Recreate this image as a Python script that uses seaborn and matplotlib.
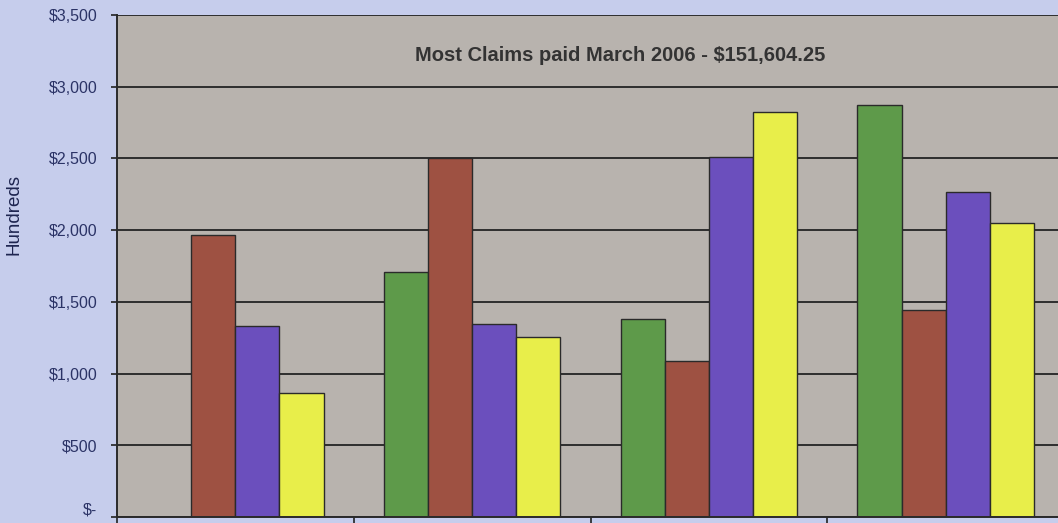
import matplotlib
matplotlib.use("Agg")
import matplotlib.pyplot as plt
import seaborn as sns
import pandas as pd
import numpy as np

categories = ["Q1", "Q2", "Q3", "Q4"]
series_names = ["Series A", "Series B", "Series C", "Series D"]
series_a = [0, 1708, 1381, 2873]     # green
series_b = [1967, 2503, 1088, 1444]  # brown
series_c = [1332, 1346, 2510, 2266]  # purple
series_d = [865, 1255, 2824, 2050]   # yellow
ytick_values = [0, 500, 1000, 1500, 2000, 2500, 3000, 3500]
ytick_labels = ["$-", "$500", "$1,000", "$1,500", "$2,000", "$2,500", "$3,000", "$3,500"]
annotation = "Most Claims paid March 2006 - $151,604.25"
colors = ["#5e9a4a", "#9e5142", "#6b4fbd", "#e8ee4a"]

rows = []
for name, vals in zip(series_names, [series_a, series_b, series_c, series_d]):
    for c, v in zip(categories, vals):
        rows.append({"cat": c, "series": name, "value": v})
df = pd.DataFrame(rows)

sns.set_style("white")
plt.rcParams['font.family'] = ['Liberation Sans', 'DejaVu Sans']

fig = plt.figure(figsize=(10.58, 5.23), dpi=100)
fig.patch.set_facecolor("#c6cdec")
ax = fig.add_axes([117/1058, 1 - 517/523, 947/1058, 502/523])
ax.set_facecolor("#b8b3ae")

sns.barplot(data=df, x="cat", y="value", hue="series", order=categories,
            hue_order=series_names, palette=colors, width=0.745,
            edgecolor="#2a2a2a", linewidth=1.0, saturation=1, ax=ax, legend=False)

ax.set_ylim(0, 3500)
ax.set_xlim(-0.5, 3.5)
ax.set_yticks(ytick_values)
ax.set_yticklabels(ytick_labels, fontsize=11.5, color="#2b3366")
ax.get_yticklabels()[0].set_verticalalignment("bottom")
ax.yaxis.grid(True, color="#2e2e2e", linewidth=1.4)
ax.set_axisbelow(True)
ax.set_xticks([-0.5, 0.5, 1.5, 2.5, 3.5])
ax.set_xticklabels([])
ax.tick_params(axis="x", length=5, color="#222222", width=1.2, direction="out", bottom=True)
ax.tick_params(axis="y", length=4, color="#222222", width=1.2, left=True, pad=10)
ax.set_xlabel("")
ax.set_ylabel("Hundreds", fontsize=13.5, color="#1e2550")
ax.yaxis.set_label_coords(-0.0993, 0.602)
for side in ["left", "bottom"]:
    ax.spines[side].set_color("#2a2a2a")
    ax.spines[side].set_linewidth(1.4)
for side in ["top", "right"]:
    ax.spines[side].set_visible(False)

ax.text(0.531, 0.92, annotation, transform=ax.transAxes, ha="center", va="center",
        fontsize=14.5, fontweight="bold", color="#333333")

fig.savefig("out.png", dpi=100, facecolor=fig.get_facecolor())
